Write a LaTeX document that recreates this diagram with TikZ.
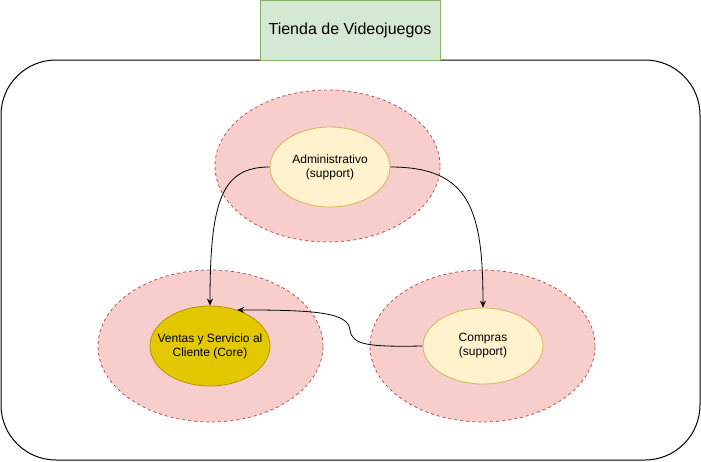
\documentclass[tikz,border=0pt]{standalone}
\usepackage{fontspec}
\setmainfont{Liberation Sans}
\usepackage{tikz}
\usetikzlibrary{shapes.geometric, arrows.meta, calc}
\definecolor{zoneFill}{HTML}{F8CECC}
\definecolor{zoneLine}{HTML}{B85450}
\definecolor{supportFill}{HTML}{FFF2CC}
\definecolor{supportLine}{HTML}{D6B656}
\definecolor{coreFill}{HTML}{E3C800}
\definecolor{coreLine}{HTML}{B09500}
\definecolor{titleFill}{HTML}{D5E8D4}
\definecolor{titleLine}{HTML}{82B366}

\begin{document}
\begin{tikzpicture}[
    x=1pt, y=-1pt,
    zone/.style={
        ellipse, draw=zoneLine, fill=zoneFill,
        dash pattern=on 3pt off 3pt, line width=0.8pt,
        minimum width=225pt, minimum height=152pt,
    },
    ctx/.style={
        ellipse, draw=supportLine, fill=supportFill,
        line width=0.8pt, align=center,
        inner xsep=-20pt, inner ysep=0pt,
        minimum width=120pt, minimum height=80pt,
        font=\fontsize{12}{14}\selectfont,
    },
    rel/.style={
        -{Stealth[length=7pt, width=6pt]}, line width=0.8pt,
    },
]
\useasboundingbox (0,0) rectangle (701,461);

%--- Context boundary ---
\draw[line width=1pt, rounded corners=55pt] (1,60) rectangle (700,460);
\node[draw=titleLine, fill=titleFill, line width=0.8pt,
      minimum width=180pt, minimum height=60pt, inner sep=0pt,
      font=\fontsize{16}{19}\selectfont] (title) at (350,30) {Tienda de Videojuegos};

%--- Subdomain zones ---
\node[zone] (zadmin) at (327.5,166) {};
\node[zone] (zcore) at (210.5,346) {};
\node[zone] (zcompras) at (482.5,346) {};

%--- Bounded contexts ---
\node[ctx] (admin) at (330,167) {Administrativo\\(support)};
\node[ctx, fill=coreFill, draw=coreLine] (core) at (210,346) {Ventas y Servicio al\\Cliente (Core)};
\node[ctx, minimum height=76pt] (compras) at (483,346) {Compras\\(support)};

%--- Relations ---
\draw[rel] (admin.west) .. controls (222,167) and (210,200) .. (core.north);
\draw[rel] (admin.east) .. controls (470,167) and (483,210) .. (compras.north);
\draw[rel] (compras.west) .. controls (368,347) and (352,345) .. (350,330)
    .. controls (348,313) and (320,310) .. (core.53);

\end{tikzpicture}
\end{document}
